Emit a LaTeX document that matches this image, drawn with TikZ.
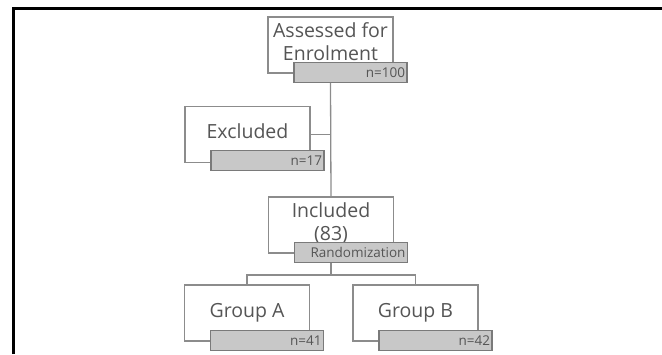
\documentclass[tikz,border=0pt]{standalone}
\usepackage{fontspec}
\setmainfont{Open Sans}
\usepackage{xcolor}
\definecolor{boxline}{HTML}{8C8C8C}
\definecolor{tagfill}{HTML}{C8C8C8}
\definecolor{tagline}{HTML}{7A7A7A}
\definecolor{txt}{HTML}{555555}

\begin{document}
\begin{tikzpicture}[x=1pt,y=-1pt,line width=1.3pt,
	box/.style={draw=boxline,fill=white,minimum width=125pt,minimum height=56pt,inner sep=0pt,text depth=6pt,align=center,text=txt,font=\fontsize{19.5}{23}\selectfont},
	tag/.style={draw=tagline,fill=tagfill,minimum width=113pt,minimum height=20pt,inner sep=2pt,text width=109pt,align=right,anchor=north west,text=txt,font=\fontsize{13.5}{15}\selectfont},
	link/.style={draw=boxline}]
	\useasboundingbox (0,0) rectangle (662,354);
	\draw[line width=3pt] (13,354) -- (13,8) -- (662,8);

	\node[box]	(A)	at (330.5,45)	{Assessed for\\Enrolment};
	\node[box]	(B)	at (247.5,134.5)	{Excluded};
	\node[box]	(C)	at (331,225)	{Included\\(83)};
	\node[box]	(D)	at (247,313)	{Group A};
	\node[box]	(E)	at (415.5,313)	{Group B};

	\node[tag]	(nA)	at ([xshift=26pt,yshift=12pt]A.south west)	{n=100};
	\node[tag]	(nB)	at ([xshift=26pt,yshift=13pt]B.south west)	{n=17};
	\node[tag]	(nC)	at ([xshift=26pt,yshift=12pt]C.south west)	{Randomization};
	\node[tag]	(nD)	at ([xshift=26pt,yshift=12pt]D.south west)	{n=41};
	\node[tag]	(nE)	at ([xshift=26pt,yshift=12pt]E.south west)	{n=42};

	% flow lines
	\draw[link]	(A.south |- nA.south) -- (C.north);
	\draw[link]	(B.east) -- (B.east -| C.north);
	\draw[link]	(C.south |- nC.south) -- ++(0,12) coordinate (split);
	\draw[link]	(D.north) |- (split) -| (E.north);
\end{tikzpicture}
\end{document}
